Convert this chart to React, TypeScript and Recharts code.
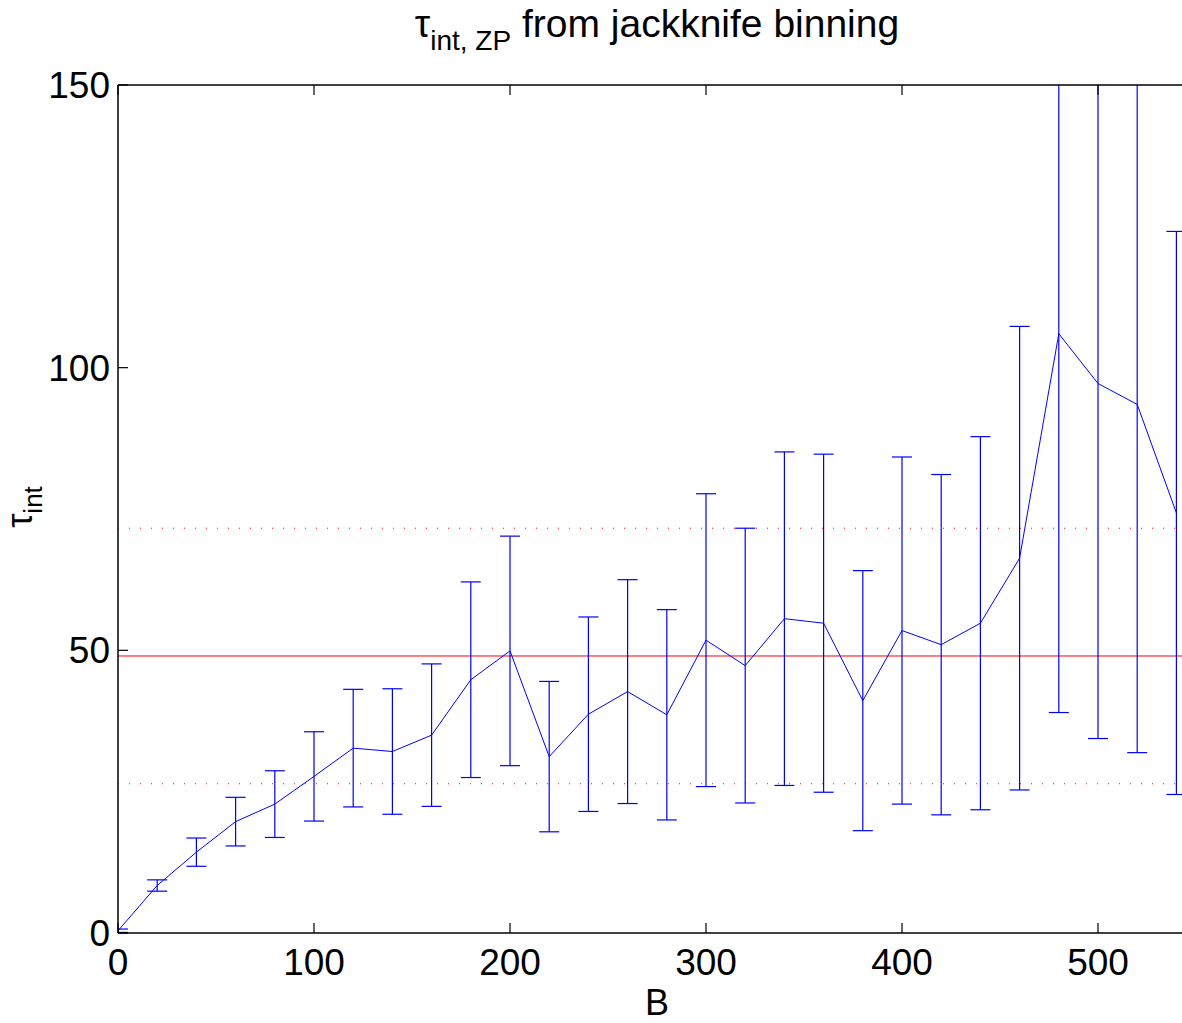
import React from 'react';
import {
    ComposedChart,
    Line,
    ErrorBar,
    XAxis,
    YAxis,
    ReferenceLine,
    Label
} from 'recharts';

// block sizes B
const blockSizes = [0, 20, 40, 60, 80, 100, 120, 140, 160, 180, 200, 220, 240, 260, 280, 300, 320, 340, 360, 380, 400, 420, 440, 460, 480, 500, 520, 540];
// tau_int estimate per block size
const tauValues = [0.4, 8.4, 14.3, 19.7, 22.8, 27.7, 32.7, 32.1, 35.0, 44.8, 49.9, 31.2, 38.7, 42.7, 38.6, 51.8, 47.3, 55.6, 54.8, 41.1, 53.5, 51.0, 54.8, 66.3, 106.0, 97.2, 93.5, 74.3];
// jackknife errors (symmetric)
const tauErrors = [0.3, 1.0, 2.5, 4.3, 5.9, 7.9, 10.4, 11.1, 12.6, 17.3, 20.3, 13.3, 17.2, 19.8, 18.6, 25.9, 24.3, 29.5, 29.9, 23.0, 30.7, 30.1, 33.0, 41.0, 67.0, 62.8, 61.6, 49.8];

const xTicks = [0, 100, 200, 300, 400, 500];
const yTicks = [0, 50, 100, 150];

const tauMean = 49.0;
const tauBandHigh = 71.6;
const tauBandLow = 26.4;

const data = blockSizes.map((b, i) => ({ b, tau: tauValues[i], err: tauErrors[i] }));

const FONT = '"Liberation Sans", Arial, Helvetica, sans-serif';
const BLUE = '#0000ff';
const RED = '#ff0000';

const TitleLabel = (props: any) => {
    const vb = props.viewBox || {};
    const cx = vb.x + vb.width / 2;
    return (
        <text x={cx} y={37} textAnchor="middle" fontFamily={FONT} fontSize={39} fill="#000">
            <tspan>τ</tspan>
            <tspan fontSize={28} dy={13}>int, ZP</tspan>
            <tspan dy={-13}> from jackknife binning</tspan>
        </text>
    );
};

const XLabel = (props: any) => {
    const vb = props.viewBox || {};
    const cx = vb.x + vb.width / 2;
    return (
        <text x={cx} y={1015} textAnchor="middle" fontFamily={FONT} fontSize={36} fill="#000">B</text>
    );
};

const YLabel = () => {
    const cy = 507;
    const cx = 32;
    return (
        <text x={cx} y={cy} transform={`rotate(-90, ${cx}, ${cy})`} textAnchor="middle" fontFamily={FONT} fontSize={36} fill="#000">
            <tspan>τ</tspan>
            <tspan fontSize={26} dy={10}>int</tspan>
        </text>
    );
};

const tickStyle = { fill: '#000', fontSize: 37, fontFamily: FONT };

export default function App() {
    return (
        <div style={{ position: 'absolute', left: 0, top: 0, width: 1182, height: 1023, overflow: 'hidden', background: '#fff' }}>
            {/* error bars beyond 150 are cut off at the top of the axes */}
            <style>{'.recharts-errorBars { clip-path: url(#plotClip); }'}</style>
            <svg width={0} height={0} style={{ position: 'absolute' }}>
                <defs>
                    <clipPath id="plotClip" clipPathUnits="userSpaceOnUse">
                        <rect x={118} y={85} width={1078} height={848} />
                    </clipPath>
                </defs>
            </svg>
            <ComposedChart width={1196} height={1023} data={data} margin={{ top: 84, right: 0, left: 0, bottom: 0 }}>
                <XAxis
                    xAxisId="bottom"
                    dataKey="b"
                    type="number"
                    domain={[0, 550]}
                    ticks={xTicks}
                    orientation="bottom"
                    height={90}
                    tickSize={-10}
                    tickMargin={26}
                    tick={tickStyle}
                    axisLine={{ stroke: '#000', strokeWidth: 1.5 }}
                    tickLine={{ stroke: '#000', strokeWidth: 1.2 }}
                    allowDataOverflow
                >
                    <Label content={XLabel} />
                </XAxis>
                <XAxis
                    xAxisId="top"
                    dataKey="b"
                    type="number"
                    domain={[0, 550]}
                    ticks={xTicks}
                    orientation="top"
                    height={1}
                    tickSize={-10}
                    tickFormatter={() => ''}
                    axisLine={{ stroke: '#000', strokeWidth: 1.5 }}
                    tickLine={{ stroke: '#000', strokeWidth: 1.2 }}
                    allowDataOverflow
                >
                    <Label content={TitleLabel} />
                </XAxis>
                <YAxis
                    yAxisId="left"
                    type="number"
                    domain={[0, 150]}
                    ticks={yTicks}
                    width={118}
                    tickSize={-10}
                    tickMargin={18}
                    tick={tickStyle}
                    axisLine={{ stroke: '#000', strokeWidth: 1.5 }}
                    tickLine={{ stroke: '#000', strokeWidth: 1.2 }}
                    allowDataOverflow
                >
                    <Label content={YLabel} />
                </YAxis>
                <ReferenceLine xAxisId="bottom" yAxisId="left" y={tauMean} stroke={RED} strokeWidth={1} />
                <ReferenceLine xAxisId="bottom" yAxisId="left" y={tauBandHigh} stroke={RED} strokeWidth={1} strokeDasharray="1 10" />
                <ReferenceLine xAxisId="bottom" yAxisId="left" y={tauBandLow} stroke={RED} strokeWidth={1} strokeDasharray="1 10" />
                <Line
                    xAxisId="bottom"
                    yAxisId="left"
                    dataKey="tau"
                    type="linear"
                    stroke={BLUE}
                    strokeWidth={1}
                    dot={false}
                    activeDot={false}
                    isAnimationActive={false}
                >
                    <ErrorBar dataKey="err" direction="y" width={10} stroke={BLUE} strokeWidth={1.2} isAnimationActive={false} />
                </Line>
            </ComposedChart>
        </div>
    );
}
